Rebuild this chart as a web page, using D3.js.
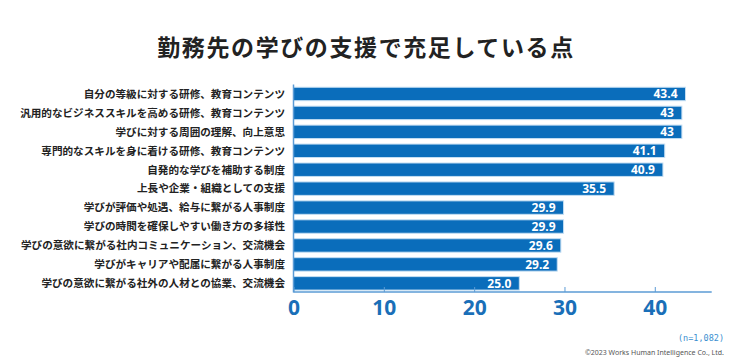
<!DOCTYPE html>
<html><head><meta charset="utf-8">
<script src="https://cdn.jsdelivr.net/npm/d3@7"></script>
<style>
body{margin:0;background:#fff;}
svg{display:block;}
</style></head>
<body><svg id="c" width="739" height="364"></svg>
<script>
const categories = [
  "自分の等級に対する研修、教育コンテンツ",
  "汎用的なビジネススキルを高める研修、教育コンテンツ",
  "学びに対する周囲の理解、向上意思",
  "専門的なスキルを身に着ける研修、教育コンテンツ",
  "自発的な学びを補助する制度",
  "上長や企業・組織としての支援",
  "学びが評価や処遇、給与に繋がる人事制度",
  "学びの時間を確保しやすい働き方の多様性",
  "学びの意欲に繋がる社内コミュニケーション、交流機会",
  "学びがキャリアや配属に繋がる人事制度",
  "学びの意欲に繋がる社外の人材との協業、交流機会"
];
const values = [43.4, 43, 43, 41.1, 40.9, 35.5, 29.9, 29.9, 29.6, 29.2, 25.0];
const valueLabels = ["43.4","43","43","41.1","40.9","35.5","29.9","29.9","29.6","29.2","25.0"];
const tickValues = [0, 10, 20, 30, 40];
const title = "勤務先の学びの支援で充足している点";
const note = "(n=1,082)";
const credit = "©2023 Works Human Intelligence Co., Ltd.";

const svg = d3.select("#c");
const jp = "'Noto Sans CJK JP','Noto Sans',sans-serif";

const x = d3.scaleLinear().domain([0, 46.3]).range([293.5, 711.7]);
const y = d3.scaleBand().domain(categories).range([84.5, 292.8]).paddingInner(0.29).paddingOuter(0.145);

svg.append("text").attr("x", 366).attr("y", 56).attr("text-anchor", "middle")
  .attr("font-family", jp).attr("font-weight", 700).attr("font-size", 23)
  .attr("letter-spacing", 1.6).attr("fill", "#222").text(title);

// bars
svg.append("g").selectAll("rect").data(values).join("rect")
  .attr("x", x(0)).attr("y", (d,i) => y(categories[i]))
  .attr("width", d => x(d) - x(0)).attr("height", y.bandwidth())
  .attr("fill", "#0a6dbb").attr("stroke", "#c4def3").attr("stroke-width", 1);

// value labels
svg.append("g").selectAll("text").data(values).join("text")
  .attr("x", d => x(d) - 8).attr("y", (d,i) => y(categories[i]) + y.bandwidth()/2)
  .attr("dy", "0.36em").attr("text-anchor", "end")
  .attr("font-family", "'Open Sans','Noto Sans',sans-serif").attr("font-weight", 700)
  .attr("font-size", 12).attr("fill", "#fff").text((d,i) => valueLabels[i]);

// category labels
svg.append("g").selectAll("text").data(categories).join("text")
  .attr("x", 285).attr("y", d => y(d) + y.bandwidth()/2).attr("dy", "0.36em")
  .attr("text-anchor", "end").attr("font-family", jp).attr("font-weight", 700)
  .attr("font-size", 10.6).attr("fill", "#222").text(d => d);

// axes
const axisColor = "#5b9bd5";
svg.append("line").attr("x1", x(0)).attr("x2", x(0)).attr("y1", 84.5).attr("y2", 292.5)
  .attr("stroke", axisColor).attr("stroke-width", 1.5);
const xAxis = d3.axisBottom(x).tickValues(tickValues).tickSize(-5).tickPadding(8);
const gx = svg.append("g").attr("transform", "translate(0,292)").call(xAxis);
gx.select(".domain").attr("stroke", axisColor).attr("stroke-width", 1.5).attr("d", `M${x(0)},0H${x.range()[1]}`);
gx.selectAll(".tick line").attr("stroke", axisColor).attr("stroke-width", 1);
gx.selectAll(".tick text").attr("font-family", "'Open Sans','Noto Sans',sans-serif")
  .attr("font-weight", 700).attr("font-size", 21).attr("fill", "#1a6fb8");

svg.append("text").attr("x", 724).attr("y", 341).attr("text-anchor", "end")
  .attr("font-family", "'DejaVu Sans Mono',monospace").attr("font-size", 8.5)
  .attr("fill", "#3a8fd0").text(note);
svg.append("text").attr("x", 724).attr("y", 355).attr("text-anchor", "end")
  .attr("font-family", "'Noto Sans',sans-serif").attr("font-size", 7)
  .attr("fill", "#555").text(credit);
</script></body></html>
